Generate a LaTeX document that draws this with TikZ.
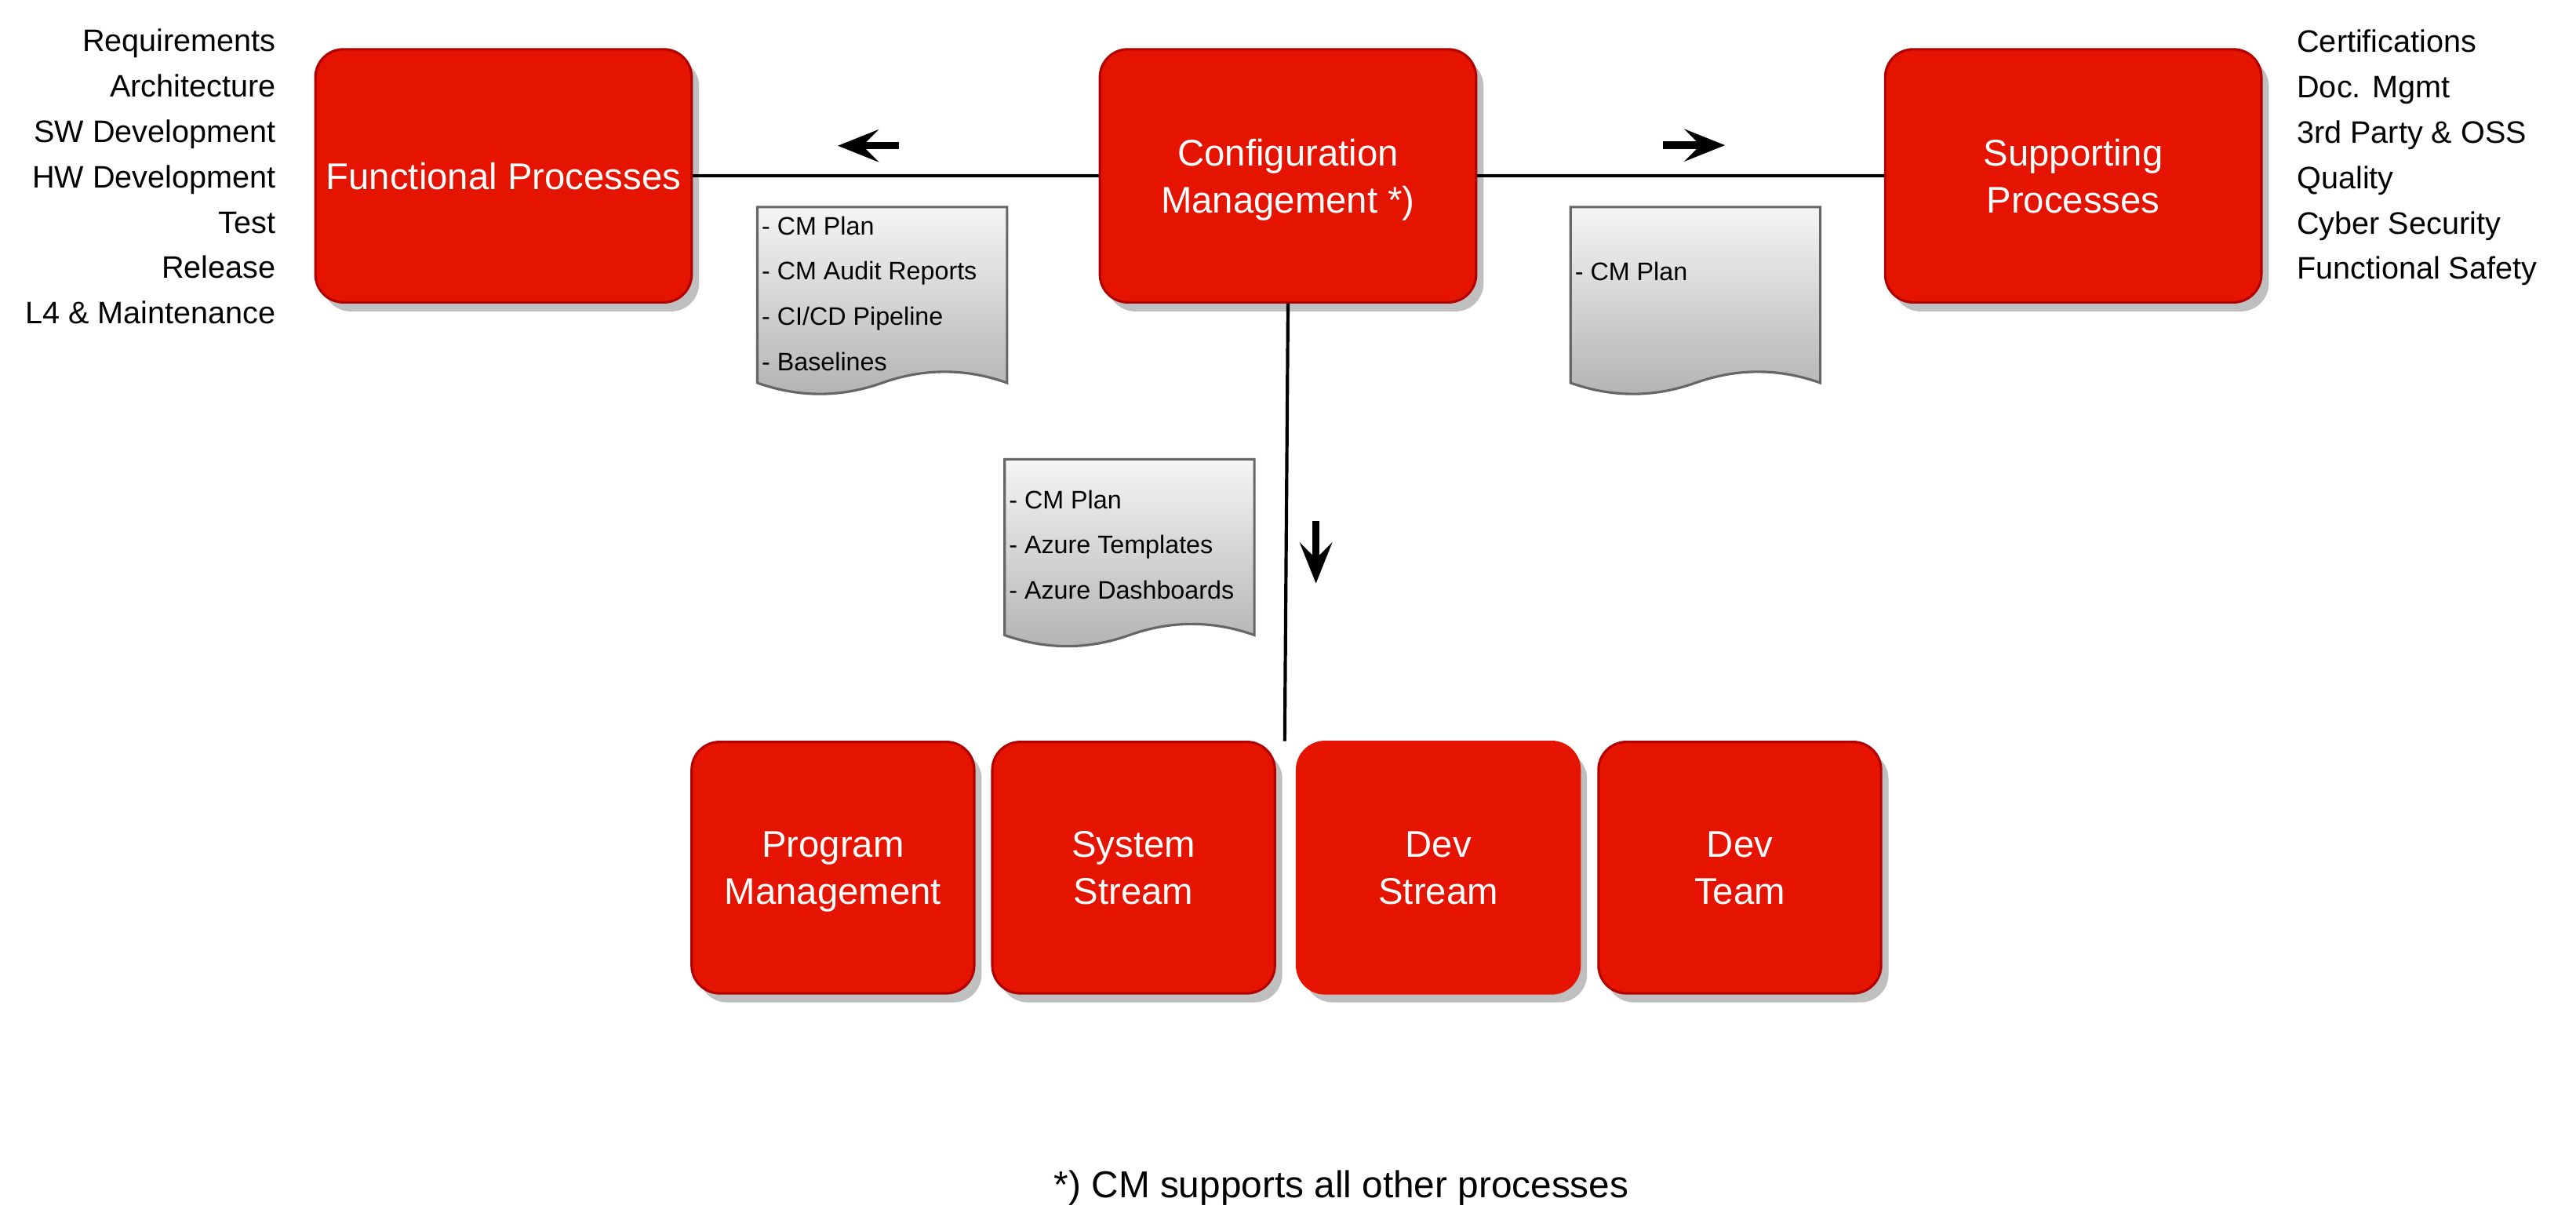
\documentclass[tikz,border=0pt]{standalone}
\usepackage{fontspec}
\setmainfont{Liberation Sans}
\usetikzlibrary{arrows.meta,shadows}

\definecolor{procred}{HTML}{E51400}
\definecolor{procedge}{HTML}{B20000}
\definecolor{docedge}{HTML}{666666}

\tikzset{
  procbox/.style={draw=procedge, fill=procred, line width=1.5pt, rounded corners=17pt,
    text=white, align=center, text depth=0pt, font=\fontsize{22.6}{28.6}\selectfont,
    drop shadow={shadow xshift=4.5pt, shadow yshift=-5.5pt, fill=black!25, opacity=1}},
  widebox/.style={procbox, minimum width=229pt, minimum height=154pt},
  teambox/.style={procbox, minimum width=172pt, minimum height=153pt},
  listtext/.style={font=\fontsize{18.9}{27.6}\selectfont, inner sep=0pt},
  doctext/.style={font=\fontsize{15.4}{27.6}\selectfont, inner sep=0pt, align=left, anchor=west},
  link/.style={line width=2pt},
  bigarrow/.style={line width=4.5pt, -{Stealth[length=25pt 0 0, width=20pt 0 0, inset=10pt 0 0, line width=0pt]}},
  docshape/.style={draw=docedge, line width=1.5pt, top color=black!4, bottom color=black!30},
  cmdoc/.pic={
    \path[docshape] (0,0) -- (152,0) -- (152,107)
      .. controls (126.7,98) and (101.3,98) .. (76,107)
      .. controls (50.7,116) and (25.3,116) .. (0,107) -- cycle;
  }
}

\begin{document}
\begin{tikzpicture}[x=1pt, y=-1pt]
    \useasboundingbox (0,0) rectangle (1568,749);

    % Process boxes
    \node[widebox] (fp) at (306.5,107) {Functional Processes};
    \node[widebox] (cm) at (784,107) {Configuration\\Management *)};
    \node[widebox] (sp) at (1262,107) {Supporting\\Processes};

    % Stream boxes
    \node[teambox] (pm) at (507,528) {Program\\Management};
    \node[teambox] (ss) at (690,528) {System\\Stream};
    \node[teambox, draw=procred] (ds) at (875.5,528) {Dev\\Stream};
    \node[teambox] (dt) at (1059,528) {Dev\\Team};

    % Lists beside the boxes
    \node[listtext, align=right, anchor=east] (funclist) at (168,107.5)
      {Requirements\\Architecture\\SW Development\\HW Development\\Test\\Release\\L4 \& Maintenance};
    \node[listtext, align=left, anchor=west] (supplist) at (1398,96)
      {Certifications\\Doc. Mgmt\\3rd Party \& OSS\\Quality\\Cyber Security\\Functional Safety};

    % Connections
    \coordinate (streamtop) at (782,451);
    \draw[link] (fp.east) -- (cm.west);
    \draw[link] (cm.east) -- (sp.west);
    \draw[link] (cm.south) -- (streamtop);

    % Direction arrows
    \coordinate (leftarrowtail) at (547,88.7);
    \coordinate (leftarrowtip) at (510,88.7);
    \coordinate (rightarrowtail) at (1012,88.4);
    \coordinate (rightarrowtip) at (1050,88.4);
    \coordinate (downarrowtail) at (801,317);
    \coordinate (downarrowtip) at (801,355);
    \draw[bigarrow] (leftarrowtail) -- (leftarrowtip);
    \draw[bigarrow] (rightarrowtail) -- (rightarrowtip);
    \draw[bigarrow] (downarrowtail) -- (downarrowtip);

    % Documents
    \pic at (461,126) {cmdoc};
    \pic at (956,126) {cmdoc};
    \pic at (611.5,279.5) {cmdoc};
    \node[doctext] (docfunc) at (463.5,178.75) {- CM Plan\\- CM Audit Reports\\- CI/CD Pipeline\\- Baselines};
    \node[doctext] (docsupp) at (958.5,165) {- CM Plan};
    \node[doctext] (docstream) at (614,331.5) {- CM Plan\\- Azure Templates\\- Azure Dashboards};

    % Footnote
    \node[font=\fontsize{22.8}{27}\selectfont] (footnote) at (816.5,723) {*) CM supports all other processes};
\end{tikzpicture}
\end{document}
